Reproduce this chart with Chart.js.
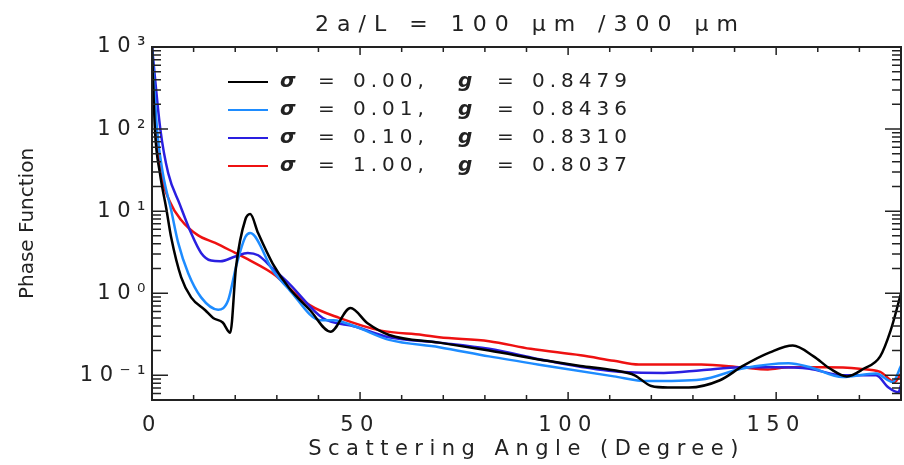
<!DOCTYPE html>
<html>
<head>
<meta charset="utf-8">
<script src="https://cdn.jsdelivr.net/npm/chart.js@4"></script>
<style>
html, body { margin: 0; padding: 0; background: #fff; }
#wrap { width: 904px; height: 465px; position: relative; }
</style>
</head>
<body>
<div id="wrap"><canvas id="phaseChart"></canvas></div>
<script>
// scattering angle (deg) and phase function, one pair per sigma
var angle000 = [0, 0.7, 1.9, 3.4, 4.6, 7, 9.4, 12.8, 14.7, 17, 18.8, 20.2, 22.4, 23.6, 25.5, 29, 33, 38, 42.9, 47.7, 51.8, 57, 69, 81, 95, 103, 111, 116, 120, 124, 129, 136.5, 142, 148.5, 154, 159, 163, 167, 171, 175, 177.5, 179.5, 180];
var phase000 = [1000, 100, 29, 11, 4.8, 1.57, 0.89, 0.62, 0.5, 0.44, 0.33, 2.1, 7.8, 9.2, 5.4, 2.3, 1.15, 0.62, 0.34, 0.66, 0.43, 0.31, 0.25, 0.2, 0.15, 0.13, 0.115, 0.1, 0.074, 0.071, 0.071, 0.087, 0.13, 0.19, 0.23, 0.17, 0.12, 0.097, 0.12, 0.17, 0.35, 0.8, 1.0];

var angle001 = [0, 1.2, 2.6, 4.6, 6.3, 8.7, 11.8, 15.9, 18.3, 20.2, 22.4, 23.6, 29, 33, 40.5, 43.6, 49, 57, 69, 81, 95, 111, 119, 132, 141.6, 153, 158, 166, 174, 178, 180];
var phase001 = [1000, 100, 29, 10.3, 4.1, 1.75, 0.89, 0.63, 0.82, 2.1, 4.8, 5.4, 1.9, 1.1, 0.47, 0.47, 0.39, 0.27, 0.22, 0.17, 0.13, 0.097, 0.085, 0.089, 0.12, 0.14, 0.126, 0.095, 0.105, 0.083, 0.13];

var angle010 = [0, 2, 3.9, 6.7, 9.4, 11.8, 14.2, 16.4, 20, 23, 25.5, 29, 33, 41, 49, 57, 69, 81, 95, 111, 123, 132, 141.6, 149.6, 158, 166, 174, 177, 179.4, 180];
var phase010 = [1000, 100, 29, 12, 5.4, 3.1, 2.5, 2.45, 2.8, 3.1, 2.9, 2.0, 1.3, 0.5, 0.39, 0.29, 0.25, 0.21, 0.15, 0.112, 0.107, 0.115, 0.125, 0.125, 0.12, 0.1, 0.1, 0.071, 0.062, 0.076];

var angle100 = [0, 1, 2.2, 4.3, 7, 11, 15.2, 20, 23, 29.6, 33, 38, 45, 55, 65, 69, 81, 91, 103, 111, 117, 132, 141.6, 148, 153, 161.6, 170, 175, 178.5, 180];
var phase100 = [1000, 100, 29, 13, 7.8, 5.1, 4.1, 3.1, 2.6, 1.66, 1.15, 0.71, 0.5, 0.35, 0.31, 0.29, 0.26, 0.21, 0.175, 0.15, 0.135, 0.135, 0.125, 0.118, 0.125, 0.125, 0.12, 0.11, 0.083, 0.105];

var sigmaLabels = ["0.00,", "0.01,", "0.10,", "1.00,"];
var gLabels = ["0.8479", "0.8436", "0.8310", "0.8037"];
var lineColors = ["#000000", "#1e8cff", "#2a1fe0", "#ee1111"];

var xTickValues = [0, 50, 100, 150];
var xTickLabels = ["0", "50", "100", "150"];
var yTickValues = [0.1, 1, 10, 100, 1000];
var yTickLabels = ["10⁻¹", "10⁰", "10¹", "10²", "10³"];

var fontFamily = "'DejaVu Sans', sans-serif";
var ink = "#222";

function points(xs, ys) {
  return xs.map(function (x, i) { return { x: x, y: ys[i] }; });
}

// the original font is wide, so spread the letters a bit
var spacingPlugin = {
  id: "spacing",
  beforeUpdate: function (chart) { chart.ctx.letterSpacing = "6.5px"; },
  beforeDraw: function (chart) { chart.ctx.letterSpacing = "6.5px"; }
};

// box with inward ticks on all four sides, IDL style
var framePlugin = {
  id: "frame",
  afterDatasetsDraw: function (chart) {
    var ctx = chart.ctx, a = chart.chartArea;
    var xs = chart.scales.x, ys = chart.scales.y;
    ctx.save();
    ctx.strokeStyle = ink;
    ctx.lineWidth = 2;
    ctx.strokeRect(a.left, a.top, a.right - a.left, a.bottom - a.top);
    ctx.lineWidth = 1.5;
    ctx.beginPath();
    for (var d = 0; d <= 180; d += 10) {
      var px = xs.getPixelForValue(d);
      var len = d % 50 === 0 ? 8 : 5;
      ctx.moveTo(px, a.bottom); ctx.lineTo(px, a.bottom - len);
      ctx.moveTo(px, a.top); ctx.lineTo(px, a.top + len);
    }
    for (var e = -2; e <= 3; e++) {
      for (var m = 1; m <= 9; m++) {
        var v = m * Math.pow(10, e);
        if (v < ys.min * 0.999 || v > ys.max * 1.001) continue;
        var py = ys.getPixelForValue(v);
        var l = m === 1 ? 16 : 9;
        ctx.moveTo(a.left, py); ctx.lineTo(a.left + l, py);
        ctx.moveTo(a.right, py); ctx.lineTo(a.right - l, py);
      }
    }
    ctx.stroke();
    ctx.restore();
  }
};

var textPlugin = {
  id: "texts",
  afterDraw: function (chart) {
    var ctx = chart.ctx, a = chart.chartArea;
    ctx.save();
    ctx.textBaseline = "middle";
    ctx.textAlign = "left";
    ctx.fillStyle = ink;
    chart.data.datasets.forEach(function (ds, i) {
      var y = 82 + i * 28;
      ctx.strokeStyle = ds.borderColor;
      ctx.lineWidth = 2;
      ctx.beginPath();
      ctx.moveTo(228, y); ctx.lineTo(268, y);
      ctx.stroke();
      ctx.letterSpacing = "0px";
      ctx.font = "bold italic 20px " + fontFamily;
      ctx.fillText("σ", 280, y);
      ctx.fillText("g", 458, y);
      ctx.font = "20px " + fontFamily;
      ctx.fillText("=", 318, y);
      ctx.fillText("=", 497, y);
      ctx.letterSpacing = "5px";
      ctx.fillText(sigmaLabels[i], 353, y);
      ctx.fillText(gLabels[i], 532, y);
    });
    // title
    ctx.textAlign = "center";
    ctx.letterSpacing = "8px";
    ctx.font = "22px " + fontFamily;
    ctx.fillText("2a/L = 100 μm /300 μm", (a.left + a.right) / 2 + 4, 25);
    // y axis title
    ctx.letterSpacing = "0px";
    ctx.font = "20px " + fontFamily;
    ctx.translate(28, (a.top + a.bottom) / 2);
    ctx.rotate(-Math.PI / 2);
    ctx.fillText("Phase Function", 0, 0);
    ctx.restore();
  }
};

var ctx = document.getElementById("phaseChart").getContext("2d");

var phaseChart = new Chart(ctx, {
  type: "line",
  data: {
    datasets: [
      { label: "σ = 0.00", data: points(angle000, phase000), borderColor: lineColors[0] },
      { label: "σ = 0.01", data: points(angle001, phase001), borderColor: lineColors[1] },
      { label: "σ = 0.10", data: points(angle010, phase010), borderColor: lineColors[2] },
      { label: "σ = 1.00", data: points(angle100, phase100), borderColor: lineColors[3] },
    ],
  },
  options: {
    responsive: true,
    maintainAspectRatio: false,
    animation: false,
    layout: { padding: { top: 47, right: 3, left: 0, bottom: 0 } },
    elements: {
      point: { radius: 0 },
      line: { borderWidth: 2.5, cubicInterpolationMode: "monotone", fill: false },
    },
    plugins: {
      legend: { display: false },
      tooltip: { enabled: false },
    },
    scales: {
      x: {
        type: "linear",
        min: 0,
        max: 180,
        afterBuildTicks: function (s) { s.ticks = xTickValues.map(function (v) { return { value: v }; }); },
        afterFit: function (s) { s.height = 65; },
        grid: { display: false, drawTicks: false },
        border: { display: false },
        ticks: {
          autoSkip: false,
          maxRotation: 0,
          padding: 13,
          color: ink,
          font: { family: fontFamily, size: 21 },
          callback: function (v, i) { return xTickLabels[i]; },
        },
        title: {
          display: true,
          text: "Scattering Angle (Degree)",
          color: ink,
          font: { family: fontFamily, size: 21 },
          padding: { top: 0, bottom: 3 },
        },
      },
      y: {
        type: "logarithmic",
        min: 0.05,
        max: 1000,
        afterBuildTicks: function (s) { s.ticks = yTickValues.map(function (v) { return { value: v }; }); },
        afterFit: function (s) { s.width = 152; },
        grid: { display: false, drawTicks: false },
        border: { display: false },
        ticks: {
          autoSkip: false,
          padding: 0,
          color: ink,
          font: { family: fontFamily, size: 21 },
          callback: function (v, i) { return yTickLabels[i]; },
        },
        title: { display: false },
      },
    },
  },
  plugins: [spacingPlugin, framePlugin, textPlugin],
});
</script>
</body>
</html>
